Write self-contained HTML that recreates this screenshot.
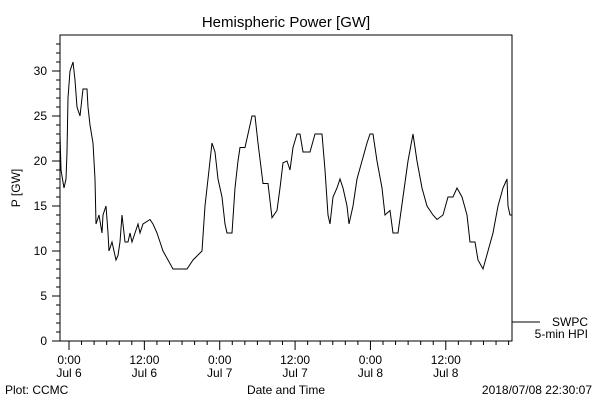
<!DOCTYPE html>
<html><head><meta charset="utf-8"><style>
html,body{margin:0;padding:0;background:#fff;}
svg{display:block;font-family:"Liberation Sans","DejaVu Sans",sans-serif;}
text{fill:#000;font-size:12px;}
</style></head><body>
<svg id="chart" width="600" height="400" xmlns="http://www.w3.org/2000/svg">
<text x="286" y="27" text-anchor="middle" style="font-size:15px">Hemispheric Power [GW]</text>
<rect x="60" y="35" width="452" height="306" fill="none" stroke="#000" stroke-width="1"/>
<g id="yaxis"></g>
<g id="xaxis"></g>
<text transform="translate(20,188) rotate(-90)" text-anchor="middle">P [GW]</text>
<text x="286" y="394" text-anchor="middle">Date and Time</text>
<text x="5" y="394">Plot: CCMC</text>
<text x="592" y="394" text-anchor="end">2018/07/08 22:30:07</text>
<line x1="512" y1="322" x2="540" y2="322" stroke="#000"/>
<text x="588" y="326" text-anchor="end">SWPC</text>
<text x="588" y="338" text-anchor="end">5-min HPI</text>
<path id="series" fill="none" stroke="#000" stroke-width="1"/>
</svg>
<script>
const hours = [-1.43,-1.27,-0.8,-0.48,-0.32,-0.16,0.16,0.64,0.96,1.27,1.75,2.23,2.87,3.03,3.34,3.82,4.14,4.3,4.78,5.25,5.41,5.89,6.21,6.37,6.85,7.17,7.48,7.8,8.12,8.44,8.6,8.92,9.39,9.71,10.03,10.51,10.99,11.31,11.78,12.9,13.38,14.01,14.49,14.97,15.76,16.56,18.79,19.75,21.18,21.66,22.13,22.77,23.25,23.73,24.36,24.84,25.16,25.96,26.43,26.91,27.23,28.03,28.5,29.14,29.62,30.1,30.89,31.69,32.32,33.12,33.6,34.08,34.71,35.19,35.67,36.31,36.78,37.26,38.38,39.17,40.29,40.76,41.24,41.56,42.04,42.68,43.15,43.63,44.27,44.59,45.22,45.86,46.66,47.45,47.93,48.41,49.04,49.84,50.32,51.11,51.59,52.39,53.18,53.98,54.78,55.41,56.21,57.01,57.96,58.6,59.55,60.35,61.15,61.78,62.58,63.38,63.85,64.65,65.13,65.92,66.72,67.52,68.31,69.11,69.75,69.9,70.22,70.54];
const power = [23,19,17,18,21,27,30,31,29,26,25,28,28,26,24,22,18,13,14,12,14,15,12,10,11,10,9,9.5,11,14,13,11,11,12,11,12,13,12,13,13.5,13,12,11,10,9,8,8,9,10,15,18,22,21,18,16,13,12,12,17,20,21.5,21.5,23,25,25,22,17.5,17.5,13.7,14.5,17,19.8,20,19,21.5,23,23,21,21,23,23,19,14,13,16,17,18,17,15,13,15,18,20,22,23,23,20,17,14,14.5,12,12,16,20,23,20,17,15,14,13.5,14,16,16,17,16,14,11,11,9,8,10,12,15,17,18,15,14,14];
const yTickLabels = ["0","5","10","15","20","25","30"];
const xTickLabels = [["0:00","Jul 6"],["12:00","Jul 6"],["0:00","Jul 7"],["12:00","Jul 7"],["0:00","Jul 8"],["12:00","Jul 8"]];
const xTickHours = [0,12,24,36,48,60];

const NS="http://www.w3.org/2000/svg";
const X = h => 69 + h*6.28;
const Y = v => 341 - v*9;
function mk(tag, attrs, parent){const e=document.createElementNS(NS,tag);for(const k in attrs)e.setAttribute(k,attrs[k]);parent.appendChild(e);return e;}
const ya=document.getElementById('yaxis');
for(let v=0; v<=33; v++){
  const t=mk('line',{x1:v%5===0?52:56,x2:60,y1:Y(v),y2:Y(v),stroke:'#000'},ya);
  
  
}
yTickLabels.forEach((l,i)=>{
  const t=mk('text',{x:47,y:Y(i*5)+4,'text-anchor':'end'},ya);t.textContent=l;
  
  
});
const xa=document.getElementById('xaxis');
for(let h=0; h<=70; h+=2){
  const t=mk('line',{x1:X(h),x2:X(h),y1:341,y2:h%12===0?350:345,stroke:'#000'},xa);
  
  
}
xTickLabels.forEach((l,i)=>{
  const t1=mk('text',{x:X(xTickHours[i]),y:364,'text-anchor':'middle'},xa);t1.textContent=l[0];
  
  
  const t2=mk('text',{x:X(xTickHours[i]),y:377,'text-anchor':'middle'},xa);t2.textContent=l[1];
  
  
});
let d='';
hours.forEach((h,i)=>{
  const x=X(h).toFixed(1), y=Y(power[i]).toFixed(1);
  d += (i===0?'M':' L')+x+' '+y;
});
document.getElementById('series').setAttribute('d',d);
</script>
</body></html>
